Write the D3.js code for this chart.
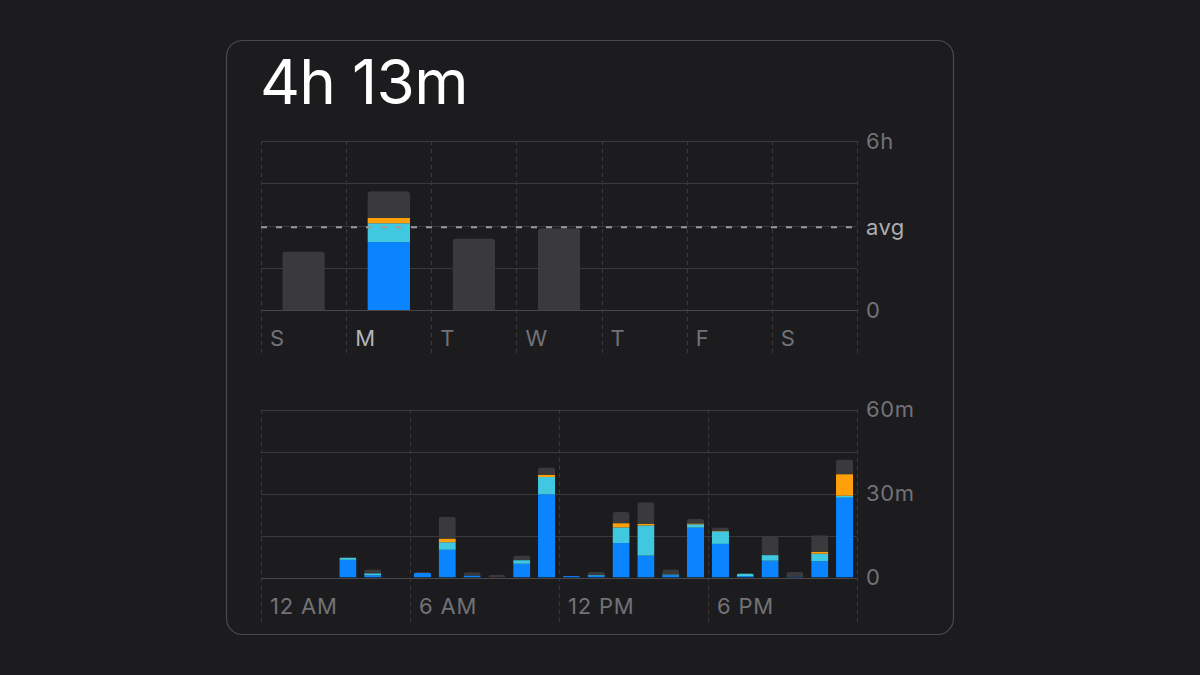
<!DOCTYPE html>
<html><head><meta charset="utf-8">
<script src="https://cdn.jsdelivr.net/npm/d3@7"></script>
<style>
html,body{margin:0;padding:0;background:#1c1c1e;}
svg{display:block;}
text{font-family:"Inter","Roboto","Noto Sans",sans-serif;}
</style></head>
<body><svg id="c" width="1200" height="675"></svg>
<script>
// ---- data ----
const title = "4h 13m";
const days = ["S","M","T","W","T","F","S"];
const selectedDay = 1;
// hours per day
const weekBlue   = [0, 2.41, 0, 0, 0, 0, 0];
const weekCyan   = [0, 0.67, 0, 0, 0, 0, 0];
const weekOrange = [0, 0.19, 0, 0, 0, 0, 0];
const weekOther  = [2.08, 0.95, 2.54, 2.90, 0, 0, 0];
const weekTicks = [0, 1.5, 3, 4.5, 6];
const weekTickLabels = [{v:6, t:"6h"}, {v:0, t:"0"}];

const hours = d3.range(24);
const hourLabels = [{h:0,t:"12 AM"},{h:6,t:"6 AM"},{h:12,t:"12 PM"},{h:18,t:"6 PM"}];
// minutes per hour
const hourBlue   = [0,0,0,6.3,0.8,0,1.6,9.9,0.7,0,4.9,29.7,0.5,0.7,12.3,7.8,0.8,17.8,12.0,0.5,6.0,0.3,5.8,28.5];
const hourCyan   = [0,0,0,0.8,0.7,0,0,2.7,0,0,1.3,6.2,0,0.2,5.6,10.8,0.3,1.2,4.5,0.9,2.0,0,2.7,0.7];
const hourOrange = [0,0,0,0,0,0,0,1.3,0,0,0,0.8,0,0,1.5,0.6,0,0.3,0.2,0,0,0,0.7,7.7];
const hourOther  = [0,0,0,0.3,1.4,0,0.4,7.8,1.2,0.9,1.7,2.6,0,1.1,4.0,7.7,1.8,1.6,1.2,0.1,6.7,1.7,5.9,5.2];
const hourTicks = [0, 15, 30, 45, 60];
const hourTickLabels = [{v:60,t:"60m"},{v:30,t:"30m"},{v:0,t:"0"}];

const colors = {blue:"#0a84ff", cyan:"#40c8e0", orange:"#ff9f0a", other:"#3a3a3c"};
const keys = ["blue","cyan","orange","other"];

// ---- drawing ----
const svg = d3.select("#c");
svg.append("rect").attr("x",226.5).attr("y",40.5).attr("width",727).attr("height",594)
  .attr("rx",16).attr("fill","#1c1c1e").attr("stroke","#4a4a4d").attr("stroke-width",1.2);

svg.append("text").attr("x",260).attr("y",104).attr("fill","#ffffff")
  .attr("font-size",62).attr("font-weight",400).attr("letter-spacing",-0.7).text(title);

const defs = svg.append("defs");
function topRounded(x,y,w,h,r){
  r = Math.min(r, h, w/2);
  return `M${x},${y+h}V${y+r}Q${x},${y} ${x+r},${y}H${x+w-r}Q${x+w},${y} ${x+w},${y+r}V${y+h}Z`;
}

function drawChart(o){
  const g = svg.append("g");
  const n = o.cats.length;
  const x = d3.scaleBand().domain(d3.range(n)).range([o.x0,o.x1])
     .paddingInner(o.pad).paddingOuter(o.pad/2);
  const y = d3.scaleLinear().domain([0,o.max]).range([o.y0,o.y1]);
  const step = x.step();
  g.selectAll(".hg").data(o.ticks).join("line")
    .attr("x1",o.x0).attr("x2",o.x1).attr("y1",d=>Math.round(y(d))+0.5).attr("y2",d=>Math.round(y(d))+0.5)
    .attr("stroke",d=>d===0?"#48484a":"#3a3a3c").attr("stroke-width",1);
  g.selectAll(".vg").data(o.vlines).join("line")
    .attr("x1",d=>Math.round(o.x0+d*step)+0.5).attr("x2",d=>Math.round(o.x0+d*step)+0.5)
    .attr("y1",o.y1).attr("y2",o.vBottom)
    .attr("stroke","#3a3a3c").attr("stroke-dasharray","4,4").attr("stroke-width",1);
  const data = d3.range(n).map(i=>{
    const r = {i};
    keys.forEach(k=>r[k]=o.series[k][i]);
    return r;
  });
  const stack = d3.stack().keys(keys)(data);
  data.forEach((d,i)=>{
    const total = keys.reduce((s,k)=>s+d[k],0);
    if(total<=0) return;
    const bx = x(i), bw = x.bandwidth();
    const tp = y(total);
    const id = o.id+"clip"+i;
    defs.append("clipPath").attr("id",id).append("path")
      .attr("d",topRounded(bx,tp,bw,o.y0-tp,o.radius));
    const bg = g.append("g").attr("clip-path",`url(#${id})`);
    stack.forEach(layer=>{
      const s = layer[i];
      if(s[1]-s[0]<=0) return;
      bg.append("rect").attr("x",bx).attr("width",bw)
        .attr("y",y(s[1])).attr("height",y(s[0])-y(s[1]))
        .attr("fill",colors[layer.key]);
    });
  });
  g.selectAll(".rl").data(o.rightLabels).join("text")
    .attr("x",o.x1+9).attr("y",d=>y(d.v)).attr("dy","0.36em")
    .attr("fill","#727277").attr("font-size",22).attr("letter-spacing",0.6).text(d=>d.t);
  g.selectAll(".bl").data(o.bottomLabels).join("text")
    .attr("x",d=>o.x0+d.i*step+9).attr("y",o.labelY).attr("dy","0.36em")
    .attr("fill",d=>d.hi?"#b4b4b8":"#727277").attr("font-size",22).attr("letter-spacing",0.8).text(d=>d.t);
  return {x,y,g};
}

const weekChart = drawChart({
  id:"w", cats:days, x0:261, x1:857, y0:310, y1:141, max:6, pad:0.5, radius:4,
  ticks:weekTicks, vlines:d3.range(8), vBottom:354,
  series:{blue:weekBlue,cyan:weekCyan,orange:weekOrange,other:weekOther},
  rightLabels:weekTickLabels,
  bottomLabels:days.map((t,i)=>({i,t,hi:i===selectedDay})), labelY:338
});
const weekTotals = days.map((d,i)=>weekBlue[i]+weekCyan[i]+weekOrange[i]+weekOther[i]);
const avg = d3.mean(weekTotals.filter(v=>v>0));
weekChart.g.append("line").attr("x1",261).attr("x2",857)
  .attr("y1",weekChart.y(avg)).attr("y2",weekChart.y(avg))
  .attr("stroke","#9a9a9e").attr("stroke-width",2).attr("stroke-dasharray","6,9");
weekChart.g.append("text").attr("x",866).attr("y",weekChart.y(avg)).attr("dy","0.36em")
  .attr("fill","#aeaeb2").attr("font-size",22).attr("letter-spacing",0.4).text("avg");

drawChart({
  id:"h", cats:hours, x0:261, x1:857, y0:577.5, y1:409.5, max:60, pad:0.31, radius:3,
  ticks:hourTicks, vlines:[0,6,12,18,24], vBottom:622,
  series:{blue:hourBlue,cyan:hourCyan,orange:hourOrange,other:hourOther},
  rightLabels:hourTickLabels,
  bottomLabels:hourLabels.map(d=>({i:d.h,t:d.t,hi:false})), labelY:606
});
</script></body></html>
